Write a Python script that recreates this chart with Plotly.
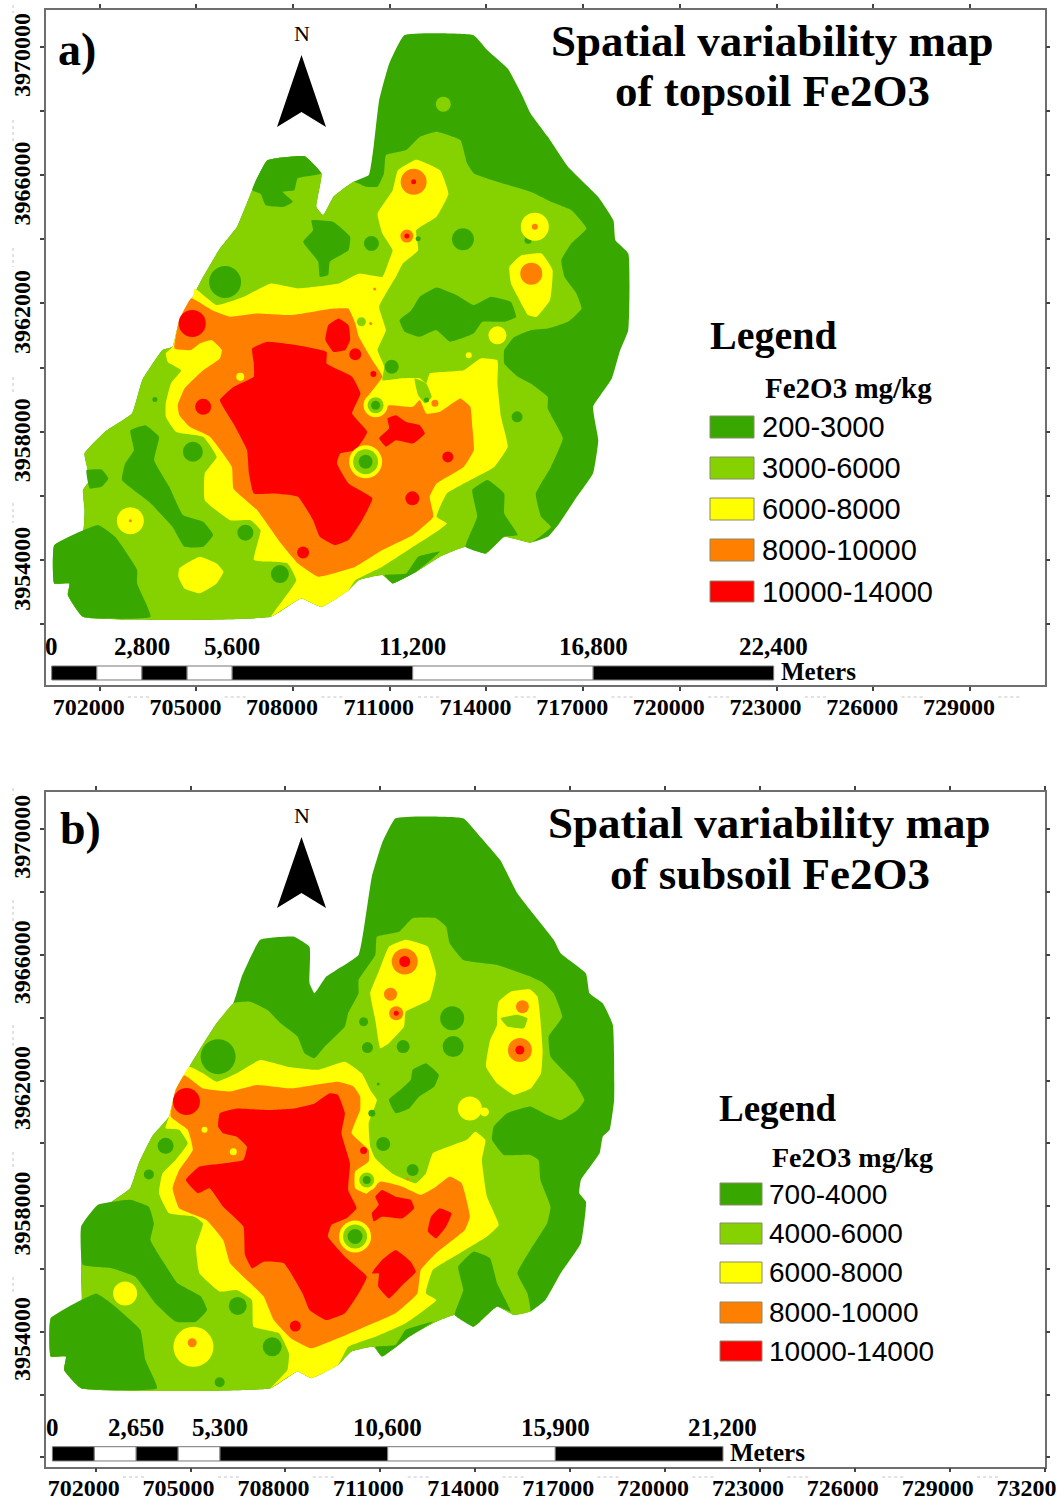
import plotly.graph_objects as go

W, H = 1057, 1500
SERIF = "Liberation Serif"
SANS = "Liberation Sans"
E0, N0 = 700000, 3950000     # polygons are stored in km east / north of this origin

class_colors = ["#38A800", "#86D200", "#FFFF00", "#FF8000", "#FF0000"]
DG, LG, YE, OR, RE = 0, 1, 2, 3, 4

x_ticks_a = list(range(702000, 730000, 3000))
x_ticks_b = list(range(702000, 733000, 3000))
y_ticks_a = list(range(3952000, 3972000, 2000))
y_ticks_b = list(range(3950000, 3972000, 2000))
y_labelled = [3954000, 3958000, 3962000, 3966000, 3970000]

legend_a = ["200-3000", "3000-6000", "6000-8000", "8000-10000", "10000-14000"]
legend_b = ["700-4000", "4000-6000", "6000-8000", "8000-10000", "10000-14000"]

scale_a = [0, 1400, 2800, 4200, 5600, 11200, 16800, 22400]
scale_b = [0, 1325, 2650, 3975, 5300, 10600, 15900, 21200]
scale_lab_a = [0, 2800, 5600, 11200, 16800, 22400]
scale_lab_b = [0, 2650, 5300, 10600, 15900, 21200]

# ---------------- panel a : topsoil ----------------
a_outline = [(11.45,20.36),(13.6,20.36),(14.03,19.89),(14.66,19.32),(15.08,18.54),(15.37,17.92),(15.9,17.2),(16.53,16.26),
 (17.47,15.32),(17.94,14.59),(18.0,13.97),(18.4,13.56),(18.4,11.17),(18.15,10.55),(17.89,9.66),(17.31,8.78),(17.37,8.31),
 (17.47,7.74),(17.31,6.71),(16.74,5.88),(16.26,5.15),(15.9,4.73),(15.37,4.55),(14.55,4.73),(13.98,4.21),(13.35,4.42),
 (12.56,4.11),(11.82,3.64),(11.09,3.28),(10.77,3.54),(10.04,3.38),(9.72,3.07),(8.88,2.55),(8.25,2.81),(7.31,2.24),(1.48,2.24),
 (1.01,2.92),(1.06,3.28),(.59,3.28),(.59,4.47),(1.48,4.89),(1.53,5.56),(1.48,6.19),(1.69,6.5),(1.53,7.33),(2.16,8.0),(3.0,8.57),
 (3.32,9.61),(3.95,10.55),(4.26,10.65),(4.47,11.48),(4.89,12.21),(5.21,12.83),(5.73,13.71),(6.26,14.39),(6.73,15.53),(7.2,16.46),
 (8.36,16.59),(8.88,16.05),(8.72,15.01),(8.93,14.75),(9.25,15.32),(9.88,15.79),(10.35,16.0),(10.51,16.98),(10.67,18.33),(10.98,19.47)]
a_light_edge = [(10.25,15.64),(10.62,15.64),(10.82,16.05),(10.88,16.62),(11.51,16.78),(11.93,17.19),(12.45,17.35),(13.19,17.09),
 (13.4,16.36),(13.61,16.05),(14.34,15.79),(15.37,15.48),(16,15.17),(16.63,14.91),(17.1,14.34),(16.63,13.87),(16.32,13.35),
 (16.42,12.83),(16.79,12.31),(16.95,11.84),(16.53,11.43),(15.9,11.22),(15.37,11.17),(14.87,10.96),(14.55,10.55),(14.55,10.13),
 (14.97,9.72),(15.37,9.51),(15.9,9.09),(15.9,8.73),(16.37,7.8),(16,6.91),(15.53,6.08),(15.69,5.36),(16,5.04)]
a_dark = [
 [(7.2,16.46),(8.36,16.59),(8.88,16.05),(8.14,15.9),(8.04,15.53),(7.67,15.48),(7.99,15.17),(7.72,15.01),(7.15,15.06),(6.99,15.42),(6.73,15.53)],
 [(8.57,14.59),(9.25,14.54),(9.77,14.08),(9.72,13.66),(9.14,13.3),(9.09,12.89),(8.83,12.83),(8.78,13.3),(8.31,13.92),(8.62,14.28)],
 [(11.3,11.48),(11.67,11.79),(11.93,12.21),(12.45,12.5),(13.08,12.26),(13.61,11.95),(14.13,12.21),(14.76,12.05),(14.92,11.58),
  (14.55,11.43),(13.87,11.43),(13.61,11.07),(12.87,10.81),(12.45,11.17),(11.93,10.96),(11.46,11.12)],
 [(2.95,8.05),(3.42,8.21),(3.84,7.85),(3.69,7.12),(4.16,6.29),(4.58,5.41),(5.21,5.2),(5.52,4.79),(5.21,4.42),(4.63,4.42),(4.26,5.04),(3.53,5.82),(2.69,6.5),(2.79,7.02),(3.06,7.43)],
 [(.59,4.47),(1.95,5.1),(2.48,4.73),(3.16,3.7),(3.16,3.28),(3.58,2.24),(1.48,2.24),(1.01,2.92),(1.06,3.28),(.59,3.28)],
 [(1.59,6.81),(2.06,6.83),(2.27,6.55),(2.06,6.29),(1.69,6.24)],
 [(13.56,6.19),(14.03,6.5),(14.55,6.08),(14.55,5.46),(14.97,4.79),(14.55,4.73),(13.98,4.21),(13.35,4.42),(13.71,5.36)],
 [(10.83,3.54),(11.51,3.59),(11.88,4.11),(12.56,4.27),(11.82,3.64),(11.09,3.28)],
]
a_yellow = [
 [(4.95,12.47),(5.63,11.95),(6.47,12.21),(7.31,12.62),(8.15,12.47),(9.41,12.62),(10.04,12.93),(10.77,12.83),(10.98,13.35),(11.09,13.66),
  (10.77,14.18),(10.62,14.8),(11.09,15.53),(11.25,16.15),(11.82,16.48),(12.56,16.15),(12.82,15.42),(12.45,14.7),(11.82,14.28),(11.88,13.66),
  (11.4,13.24),(11.19,12.83),(10.67,11.9),(10.88,11.17),(10.62,10.55),(10.83,10.03),(10.77,9.61),(11.4,9.67),(11.93,9.67),(12.13,9.51),
  (12.24,9.82),(13.29,9.92),(13.82,10.29),(14.34,10.23),(14.34,9.51),(14.45,8.47),(14.66,7.54),(14.24,6.91),(13.5,6.5),(12.77,6.08),
  (12.45,5.36),(12.77,5.15),(12.45,4.89),(11.72,4.42),(10.77,3.8),(9.93,3.38),(9.72,3.07),(8.88,2.55),(8.25,2.81),(7.31,2.24),(8.1,3.38),
  (7.83,3.9),(7.2,3.96),(6.78,4.01),(6.99,4.94),(6.68,5.25),(6.05,5.25),(5.26,5.87),(5.26,6.71),(5.63,7.22),(5.21,7.85),(4.37,8.0),(4.05,8.47),
  (4.05,8.89),(4.21,9.51),(4.53,9.92),(4.11,10.18),(4.05,10.44),(4.26,10.65),(4.47,11.48),(4.89,12.21)],
 [(14.71,13.14),(15.08,13.5),(15.71,13.56),(16.05,13.04),(15.97,12.1),(15.55,11.58),(15.29,11.64),(14.97,12.21),(14.76,12.62)],
 [(4.47,3.75),(5.1,4.11),(5.63,3.9),(5.84,3.64),(5.63,3.28),(5.1,2.97),(4.63,3.12),(4.44,3.49)],
]
a_light_islands = [[(11.77,9.67),(12.13,9.51),(12.3,9.09),(12.09,8.89),(11.88,9.14)]]
a_orange = [[(4.84,12.16),(5.47,11.8),(6.05,11.59),(6.89,11.69),(7.94,11.64),(9.2,11.84),(9.72,11.84),(9.93,11.38),(10.04,10.96),(10.46,10.23),
 (10.77,9.72),(10.35,9.14),(10.3,8.78),(10.56,8.52),(10.98,8.83),(11.72,8.78),(11.93,8.99),(12.13,8.57),(12.56,8.63),(13.19,9.04),(13.5,8.78),
 (13.56,8.16),(13.61,7.43),(13.29,6.91),(12.45,6.39),(12.24,5.98),(12.35,5.36),(11.72,4.79),(10.77,4.32),(9.93,3.8),(8.78,3.49),(8.15,3.9),
 (7.62,4.53),(7.26,5.04),(6.89,5.56),(6.15,6.24),(6.1,6.91),(5.42,7.85),(4.79,8.16),(4.47,8.52),(4.42,8.83),(4.63,9.35),(5.21,9.92),(5.73,10.29),
 (5.79,10.55),(5.47,10.86),(5.1,10.75),(4.84,10.55),(4.32,10.6),(4.47,11.48)]]
a_red = [
 [(6.73,10.6),(7.2,10.81),(8.15,10.7),(9.04,10.49),(9.04,10.13),(9.83,9.72),(10.09,9.2),(9.83,8.57),(10.3,8.0),(9.93,7.43),(9.46,7.33),(9.36,7.02),
  (9.72,6.39),(10.46,5.93),(10.14,5.25),(9.72,4.63),(9.3,4.47),(8.83,4.73),(8.62,5.25),(8.15,5.98),(7.41,6.08),(6.78,6.08),(6.63,6.71),(6.57,7.43),
  (6.15,8.26),(5.73,8.99),(6.15,9.4),(6.78,9.72),(6.78,10.13)],
 [(10.93,8.42),(11.19,8.52),(11.51,8.31),(11.93,8.21),(12.09,7.95),(11.72,7.64),(11.19,7.74),(10.88,7.54),(10.67,7.8),(10.98,8.11)],
 [(9.09,11.32),(9.41,11.53),(9.72,11.32),(9.77,10.86),(9.62,10.55),(9.25,10.49),(9.0,10.86)],
]
# spots : east km, north km, drawn diameter, class
a_spots = [(12.66,18.21,15,LG),(10.43,13.87,15,DG),(13.27,14.0,22,DG),(5.89,12.67,32,DG),(11.88,14.02,5,DG),(15.29,13.97,7,DG),(3.71,9.01,5,DG),
 (4.89,7.38,20,DG),(6.52,4.86,16,DG),(7.59,3.57,18,DG),(11.06,10.03,14,DG),(14.95,8.47,11,DG),(12.14,8.99,5,DG),
 (14.34,11.01,18,YE),(13.45,10.39,6,YE),(2.95,5.23,27,YE),(2.95,5.23,3,OR),(15.5,14.39,28,YE),(15.5,14.39,6,OR),(15.39,12.93,22,OR),
 (10.25,7.07,33,YE),(10.25,7.07,25,LG),(10.25,7.07,14,DG),(10.56,8.83,24,YE),(10.56,8.83,16,LG),(10.56,8.83,9,DG),
 (10.12,11.43,9,LG),(10.41,11.38,3,OR),(10.53,12.45,3,OR),(12.4,8.89,7,OR),(6.36,9.72,8,YE),
 (11.74,15.79,26,OR),(11.74,15.79,5,RE),(11.53,14.1,13,OR),(11.53,14.1,5,RE),(4.87,11.38,27,RE),(5.21,8.78,16,RE),(9.93,10.42,12,RE),
 (10.49,9.8,6,RE),(12.8,7.22,11,RE),(11.7,5.93,14,RE),(8.31,4.24,12,RE)]

# ---------------- panel b : subsoil ----------------
b_outline = [(11.48,20.35),(13.62,20.35),(14.15,19.77),(14.79,19.02),(15.33,17.96),(15.9,17.22),(16.48,16.48),(16.7,16.05),(17.5,15.41),(17.61,14.78),
 (18.03,14.46),(18.35,13.77),(18.39,11.38),(18.25,10.43),(18.03,10.21),(17.93,9.68),(17.34,8.83),(17.29,8.41),(17.5,8.14),(17.34,6.82),(16.7,5.86),
 (16.22,5.01),(15.74,4.64),(15.22,4.53),(14.69,4.8),(14.15,4.32),(13.94,4.16),(13.35,4.53),(12.66,4.27),(11.91,3.84),(11.05,3.21),(10.79,3.52),
 (10.09,3.37),(9.66,2.94),(8.81,2.52),(8.38,2.73),(7.53,2.2),(1.54,2.2),(1.0,2.78),(1.06,3.21),(.58,3.21),(.58,4.43),(1.54,4.85),(1.54,5.75),(1.59,7.24),
 (2.29,7.98),(3.09,8.57),(3.36,9.36),(3.78,10.21),(4.32,10.85),(4.53,11.7),(4.96,12.44),(5.28,12.97),(5.82,13.82),(6.35,14.46),(6.62,15.31),(7.2,16.48),
 (8.27,16.58),(8.76,16.26),(8.76,15.1),(8.92,14.78),(9.29,15.31),(10.31,16.0),(10.52,17.11),(10.73,18.49),(11.05,19.55)]
b_light_edge = [(6.88,14.51),(7.42,14.25),(7.85,13.82),(8.38,13.4),(8.6,12.87),(8.92,12.71),(9.24,13.08),(9.88,13.72),(9.98,14.14),(10.31,14.78),(10.31,15.2),
 (10.84,16.0),(10.89,16.58),(11.59,16.74),(12.02,17.17),(12.76,17.17),(13.08,16.9),(13.19,16.37),(13.62,15.84),(14.69,15.68),(15.74,15.31),(16.16,15.1),
 (16.48,14.78),(16.75,14.03),(16.32,13.4),(16.38,12.76),(17.13,11.96),(17.45,11.38),(17.23,11.06),(16.7,10.74),(16.16,10.96),(15.74,11.17),(15.01,10.96),
 (14.58,10.53),(14.53,10.11),(14.9,9.63),(15.74,9.63),(16.0,9.47),(16.06,8.83),(16.38,7.98),(16.27,7.45),(15.74,6.6),(15.33,5.86),(15.65,5.22)]
b_dark = [
 [(1.54,7.35),(2.07,8.04),(3.09,8.2),(3.68,7.98),(3.84,7.45),(3.73,6.92),(4.1,6.28),(4.59,5.54),(5.33,5.12),(5.52,4.69),(5.17,4.32),(4.53,4.32),(3.89,4.9),(3.25,5.75),(2.5,6.02),(1.59,6.13)],
 [(.58,4.43),(1.54,5.01),(2.02,5.22),(2.5,4.9),(3.41,4.06),(3.57,3.1),(3.94,2.2),(1.54,2.2),(1.0,2.78),(1.06,3.21),(.58,3.21)],
 [(13.46,6.07),(13.94,6.55),(14.47,6.34),(14.69,5.54),(15.12,4.64),(14.69,4.8),(14.15,4.32),(13.94,4.16),(13.35,4.53),(13.62,5.33)],
 [(10.84,3.52),(11.48,3.58),(11.8,4.06),(12.66,4.32),(11.91,3.84),(11.05,3.21)],
 [(11.27,11.38),(11.69,11.75),(11.96,12.02),(12.02,12.34),(12.44,12.55),(12.85,12.18),(12.71,11.81),(12.23,11.49),(11.91,11.11),(11.48,10.96)],
]
b_yellow = [
 [(4.96,12.44),(5.39,12.23),(5.82,11.96),(6.46,12.23),(7.2,12.65),(8.06,12.44),(9.02,12.34),(9.88,12.6),(10.41,12.23),(10.68,11.7),(10.89,11.38),(10.63,10.64),
  (10.68,9.89),(10.84,9.52),(11.37,9.04),(12.12,8.73),(12.44,9.04),(12.66,9.68),(13.73,10.11),(14.0,10.37),(14.32,10.11),(14.21,9.47),(14.37,8.3),(14.74,7.4),
  (14.37,7.03),(13.51,6.5),(12.66,5.97),(12.44,5.22),(12.77,5.01),(11.8,4.27),(10.84,3.84),(9.98,3.52),(9.66,2.94),(8.81,2.52),(8.38,2.73),(7.53,2.2),(8.06,2.78),
  (8.11,3.31),(7.8,3.95),(6.99,4.16),(6.94,5.01),(6.46,5.33),(5.92,5.28),(5.28,5.86),(5.17,6.71),(5.39,7.45),(5.12,7.66),(4.32,7.77),(4.0,8.41),(4.11,9.04),
  (4.53,9.47),(4.91,10.0),(4.64,10.43),(4.21,10.48),(4.32,10.85),(4.53,11.7)],
 [(10.68,14.78),(10.95,15.47),(11.27,16.26),(11.8,16.48),(12.5,16.26),(12.76,15.41),(12.55,14.57),(11.8,14.19),(11.75,13.72),(11.27,13.19),(11.0,13.03),(10.84,13.93)],
 [(14.74,14.51),(15.12,14.83),(15.74,14.9),(15.97,14.67),(16.06,13.93),(16.13,12.97),(16.08,12.23),(15.76,11.75),(15.22,11.54),(14.69,11.91),(14.34,12.44),(14.47,13.29),(14.69,13.77),(14.69,14.14)],
]
b_light_islands = [[(14.8,13.98),(15.33,14.09),(15.65,13.98),(15.54,13.66),(15.01,13.72)]]
b_orange = [[(4.8,12.17),(5.39,11.75),(6.25,11.65),(7.1,11.86),(8.17,11.75),(8.92,11.86),(9.66,11.96),(10.15,11.81),(10.36,11.49),(10.36,11.06),(10.09,10.32),(10.63,9.79),
 (10.63,9.42),(10.2,9.1),(10.2,8.57),(10.57,8.4),(11.0,8.78),(11.7,8.62),(12.28,8.36),(12.76,8.62),(13.19,8.94),(13.57,8.73),(13.83,7.66),(13.67,7.24),(12.76,6.5),
 (12.28,5.97),(12.17,5.22),(11.48,4.59),(10.52,4.16),(9.66,3.79),(8.81,3.47),(8.17,3.79),(7.63,4.37),(7.31,5.12),(6.89,5.54),(6.25,6.18),(6.03,6.92),(5.5,7.56),
 (4.64,7.93),(4.43,8.57),(4.64,9.15),(5.07,9.79),(4.91,10.43),(4.37,10.85),(4.53,11.7)]]
b_red = [
 [(5.92,10.96),(6.46,11.11),(7.42,11.06),(8.27,11.11),(8.92,11.27),(9.4,11.59),(9.66,11.54),(9.88,10.96),(9.77,10.32),(10.04,9.36),(9.98,8.51),(10.25,7.93),(9.93,7.61),
  (9.45,7.4),(9.34,7.03),(9.88,6.39),(10.57,5.75),(10.31,5.22),(9.88,4.59),(9.29,4.37),(8.76,4.69),(8.54,5.22),(7.95,6.18),(7.31,6.23),(6.94,6.02),(6.72,6.44),(6.67,7.35),
  (6.03,7.98),(5.6,8.57),(5.23,8.41),(4.85,8.83),(5.28,9.26),(6.03,9.36),(6.67,9.47),(6.78,9.89),(6.46,10.21),(6.03,10.32),(5.87,10.53)],
 [(10.84,8.3),(11.05,8.51),(11.48,8.3),(11.96,8.2),(12.07,7.93),(11.7,7.61),(11.05,7.66),(10.79,7.51),(10.73,7.77),(10.95,8.04)],
 [(12.87,7.93),(13.25,7.77),(13.08,7.35),(12.76,6.97),(12.5,7.19),(12.6,7.66)],
 [(11.48,6.6),(11.96,6.23),(12.12,5.91),(11.7,5.49),(11.27,5.06),(10.93,5.44),(10.95,5.86),(10.73,5.86),(11.05,6.28)],
]
b_spots = [(5.87,12.76,35,DG),(10.47,13.87,9,DG),(10.59,13.05,11,DG),(11.72,13.08,13,DG),(13.27,13.98,24,DG),(13.3,13.08,21,DG),(10.73,10.96,7,DG),(10.93,11.89,3,DG),
 (4.21,9.92,16,DG),(3.68,9.01,10,DG),(6.49,4.82,18,DG),(7.58,3.52,19,DG),(5.92,2.39,10,DG),(11.09,9.98,14,DG),(12.02,9.15,12,DG),
 (13.83,11.11,24,YE),(14.29,11.0,9,YE),(2.93,5.22,24,YE),(5.09,3.52,40,YE),(5.05,3.65,9,OR),
 (11.77,15.79,26,OR),(11.77,15.79,11,RE),(11.32,14.75,13,OR),(11.5,14.14,14,OR),(11.5,14.14,5,RE),
 (15.49,14.35,13,OR),(15.41,12.97,24,OR),(15.41,12.97,9,RE),
 (10.2,7.03,32,YE),(10.2,7.03,24,LG),(10.2,7.03,15,DG),(10.57,8.83,22,YE),(10.57,8.83,15,LG),(10.57,8.83,8,DG),
 (4.87,11.33,27,RE),(8.31,4.18,11,RE),(10.47,9.77,7,RE),(6.35,9.73,7,YE),(5.44,10.43,6,YE),(11.86,8.86,3,OR)]

panels = [
 dict(xa="x", ya="y", outline=a_outline, edge=a_light_edge, body=a_outline[22:63], dark=a_dark, yellow=a_yellow, isl=a_light_islands,
      orange=a_orange, red=a_red, spots=a_spots, scale=scale_a, slab=scale_lab_a, se=700511, sn=(3950271, 3950707)),
 dict(xa="x2", ya="y2", outline=b_outline, edge=b_light_edge, body=b_outline[22:55], dark=b_dark, yellow=b_yellow, isl=b_light_islands,
      orange=b_orange, red=b_red, spots=b_spots, scale=scale_b, slab=scale_lab_b, se=700631, sn=(3949883, 3950338)),
]

fig = go.Figure()

def poly(p, pts, cls):
    closed = list(pts) + [pts[0]]
    fig.add_trace(go.Scatter(x=[E0 + 1000 * q[0] for q in closed], y=[N0 + 1000 * q[1] for q in closed], xaxis=p["xa"], yaxis=p["ya"],
                             mode="lines", fill="toself", fillcolor=class_colors[cls], line=dict(width=0, shape="spline", smoothing=0.35),
                             hoverinfo="skip", showlegend=False))

for p in panels:
    poly(p, p["outline"], DG)
    poly(p, p["edge"] + p["body"], LG)
    for g, c in [(p["dark"], DG), (p["yellow"], YE), (p["isl"], LG), (p["orange"], OR), (p["red"], RE)]:
        for pts in g:
            poly(p, pts, c)
    s = p["spots"]
    fig.add_trace(go.Scatter(x=[E0 + 1000 * q[0] for q in s], y=[N0 + 1000 * q[1] for q in s], xaxis=p["xa"], yaxis=p["ya"], mode="markers",
                             marker=dict(size=[q[2] for q in s], color=[class_colors[q[3]] for q in s], opacity=1, line=dict(width=0)),
                             hoverinfo="skip", showlegend=False))
    # scale bar, in map metres
    m = p["scale"]
    for i in range(len(m) - 1):
        x0, x1 = p["se"] + m[i], p["se"] + m[i + 1]
        y0, y1 = p["sn"]
        fig.add_trace(go.Scatter(x=[x0, x1, x1, x0, x0], y=[y0, y0, y1, y1, y0], xaxis=p["xa"], yaxis=p["ya"], mode="lines", fill="toself",
                                 fillcolor="#000000" if i % 2 == 0 else "#FFFFFF", line=dict(color="#777777", width=1),
                                 hoverinfo="skip", showlegend=False))

def px(v): return v / W
def py(v): return 1 - v / H

def axis(ticks, rng, dom, **kw):
    return dict(range=rng, domain=dom, tickmode="array", tickvals=ticks, showgrid=False, zeroline=False, showline=True, mirror="ticks",
                automargin=False, linecolor="#6E6E6E", linewidth=1.5, ticks="outside", ticklen=4, tickcolor="#444444", tickwidth=1.5,
                ticklabeloverflow="allow", tickfont=dict(family=SERIF, size=24, color="#000000", weight="bold"), **kw)

xdom = [px(45.6), px(1044.6)]
fig.update_layout(
    width=W, height=H, margin=dict(l=0, r=0, t=0, b=0, autoexpand=False), paper_bgcolor="white", plot_bgcolor="white", showlegend=False,
    xaxis=axis(x_ticks_a, [700321, 731317], xdom, anchor="y", ticktext=[str(v) for v in x_ticks_a], ticklabelshift=-11, tickangle=0, ticklabelstandoff=-5),
    yaxis=axis(y_ticks_a, [3950115, 3971143], [py(685), py(10)], anchor="x", ticktext=[str(v) if v in y_labelled else "" for v in y_ticks_a],
               tickangle=-90, ticklabelshift=12),
    xaxis2=axis(x_ticks_b, [700416, 732000], xdom, anchor="y2", ticktext=[str(v) for v in x_ticks_b], ticklabelshift=-12, tickangle=0, ticklabelstandoff=-5),
    yaxis2=axis(y_ticks_b, [3949701, 3971197], [py(1466.7), py(791.7)], anchor="x2", ticktext=[str(v) if v in y_labelled else "" for v in y_ticks_b],
                tickangle=-90, ticklabelshift=11),
)

def txt(x, y, s, size, family=SERIF, bold=True, anchor="center", xref="paper"):
    fig.add_annotation(x=x if xref != "paper" else px(x), y=py(y), xref=xref, yref="paper", text=s, showarrow=False, xanchor=anchor, yanchor="middle",
                       font=dict(family=family, size=size, color="#000000", weight="bold" if bold else "normal"))

def arrow(tip, base, notch):
    pth = f"M {px(301.5)} {py(tip)} L {px(277)} {py(base)} L {px(301.5)} {py(notch)} L {px(326)} {py(base)} Z"
    fig.add_shape(type="path", path=pth, xref="paper", yref="paper", fillcolor="#000000", line=dict(width=0))

def legend(labels, sw_x0, sw_x1, tops, bottoms, text_x, size):
    for lab, t, b in zip(labels, tops, bottoms):
        fig.add_shape(type="rect", xref="paper", yref="paper", x0=px(sw_x0), x1=px(sw_x1), y0=py(b), y1=py(t),
                      fillcolor=class_colors[labels.index(lab)], line=dict(color="#8A8A6A", width=1))
        txt(text_x, (t + b) / 2, lab, size, SANS, False, "left")

# panel a furniture
txt(77, 50, "a)", 46)
txt(772, 41, "Spatial variability map", 45)
txt(772, 91, "of topsoil Fe2O3", 45)
txt(301.5, 33, "N", 22, bold=False)
arrow(55, 127, 112)
txt(773, 336, "Legend", 40)
txt(848, 388, "Fe2O3 mg/kg", 29)
legend(legend_a, 710, 754, [416, 457, 498, 539, 581], [438, 479, 520, 561, 602], 760, 29)
for v in scale_lab_a:
    txt(700511 + v, 646, f"{v:,}", 25, xref="x")
txt(779, 672, "Meters", 25, anchor="left")

# panel b furniture
txt(80, 828, "b)", 46)
txt(770, 823, "Spatial variability map", 45)
txt(770, 874, "of subsoil Fe2O3", 45)
txt(301.5, 815, "N", 22, bold=False)
arrow(837, 908, 893)
txt(778, 1108, "Legend", 37)
txt(852, 1157, "Fe2O3 mg/kg", 28)
legend(legend_b, 720, 762, [1183, 1223, 1262, 1302, 1341], [1205, 1244, 1283, 1323, 1361], 767, 28)
for v in scale_lab_b:
    txt(700631 + v, 1427, f"{v:,}", 25, xref="x2")
txt(728, 1452, "Meters", 25, anchor="left")

# faint ghosts of the hidden tick labels
GHOST = dict(color="#E2E2E2", width=2, dash="dot")
for k in range(10):
    fig.add_shape(type="line", xref="paper", yref="paper", x0=px(128 + 96.7 * k), x1=px(149 + 96.7 * k), y0=py(697), y1=py(697), line=GHOST)
    fig.add_shape(type="line", xref="paper", yref="paper", x0=px(123 + 94.9 * k), x1=px(144 + 94.9 * k), y0=py(1477), y1=py(1477), line=GHOST)
for a0, a1 in [(5, 13), (120, 143), (248, 267), (377, 393), (503, 523), (788, 795), (900, 923), (1025, 1047), (1152, 1170), (1277, 1295)]:
    fig.add_shape(type="line", xref="paper", yref="paper", x0=px(13), x1=px(13), y0=py(a0), y1=py(a1), line=GHOST)

fig.write_html("out.html", post_script="document.body.style.margin='0';", config={"displayModeBar": False})
